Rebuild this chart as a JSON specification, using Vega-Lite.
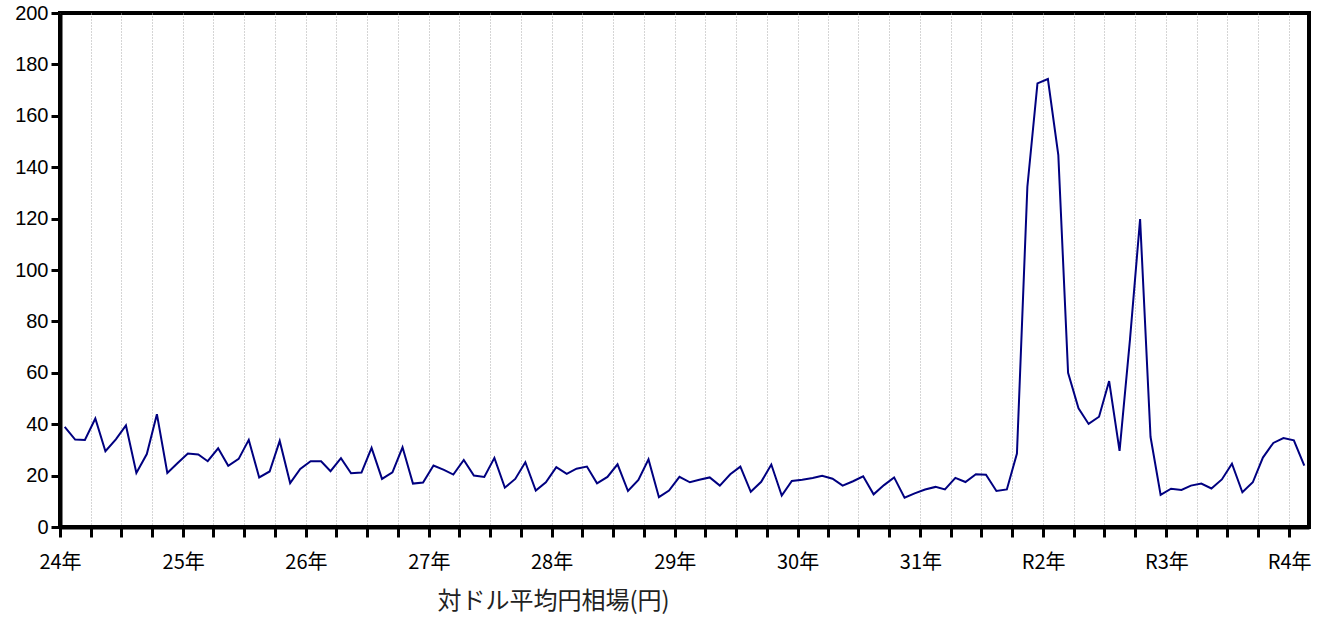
{
  "$schema": "https://vega.github.io/schema/vega-lite/v6.json",
  "autosize": {"type": "none"},
  "width": 1249,
  "height": 514,
  "padding": {"left": 60, "top": 13, "right": 24, "bottom": 90},
  "background": "white",
  "config": {
    "view": {"stroke": "black", "strokeWidth": 4},
    "axis": {"domainColor": "black", "tickColor": "black"}
  },
  "data": {
    "values": [
      {"date": "2012-01-15", "value": 39.0}, {"date": "2012-02-15", "value": 34.0}, {"date": "2012-03-15", "value": 33.9}, {"date": "2012-04-15", "value": 42.2},
      {"date": "2012-05-15", "value": 29.5}, {"date": "2012-06-15", "value": 34.1}, {"date": "2012-07-15", "value": 39.5}, {"date": "2012-08-15", "value": 21.0},
      {"date": "2012-09-15", "value": 28.4}, {"date": "2012-10-15", "value": 43.9}, {"date": "2012-11-15", "value": 21.0}, {"date": "2012-12-15", "value": 24.8},
      {"date": "2013-01-15", "value": 28.6}, {"date": "2013-02-15", "value": 28.2}, {"date": "2013-03-15", "value": 25.6}, {"date": "2013-04-15", "value": 30.6},
      {"date": "2013-05-15", "value": 23.8}, {"date": "2013-06-15", "value": 26.5}, {"date": "2013-07-15", "value": 33.9}, {"date": "2013-08-15", "value": 19.3},
      {"date": "2013-09-15", "value": 21.6}, {"date": "2013-10-15", "value": 33.5}, {"date": "2013-11-15", "value": 17.1}, {"date": "2013-12-15", "value": 22.6},
      {"date": "2014-01-15", "value": 25.6}, {"date": "2014-02-15", "value": 25.6}, {"date": "2014-03-15", "value": 21.7}, {"date": "2014-04-15", "value": 26.8},
      {"date": "2014-05-15", "value": 20.9}, {"date": "2014-06-15", "value": 21.2}, {"date": "2014-07-15", "value": 30.8}, {"date": "2014-08-15", "value": 18.7},
      {"date": "2014-09-15", "value": 21.3}, {"date": "2014-10-15", "value": 31.0}, {"date": "2014-11-15", "value": 16.9}, {"date": "2014-12-15", "value": 17.3},
      {"date": "2015-01-15", "value": 23.9}, {"date": "2015-02-15", "value": 22.2}, {"date": "2015-03-15", "value": 20.4}, {"date": "2015-04-15", "value": 26.1},
      {"date": "2015-05-15", "value": 20.0}, {"date": "2015-06-15", "value": 19.5}, {"date": "2015-07-15", "value": 26.9}, {"date": "2015-08-15", "value": 15.3},
      {"date": "2015-09-15", "value": 18.7}, {"date": "2015-10-15", "value": 25.2}, {"date": "2015-11-15", "value": 14.2}, {"date": "2015-12-15", "value": 17.4},
      {"date": "2016-01-15", "value": 23.3}, {"date": "2016-02-15", "value": 20.7}, {"date": "2016-03-15", "value": 22.7}, {"date": "2016-04-15", "value": 23.5},
      {"date": "2016-05-15", "value": 17.0}, {"date": "2016-06-15", "value": 19.5}, {"date": "2016-07-15", "value": 24.4}, {"date": "2016-08-15", "value": 14.0},
      {"date": "2016-09-15", "value": 18.3}, {"date": "2016-10-15", "value": 26.3}, {"date": "2016-11-15", "value": 11.6}, {"date": "2016-12-15", "value": 14.2},
      {"date": "2017-01-15", "value": 19.5}, {"date": "2017-02-15", "value": 17.4}, {"date": "2017-03-15", "value": 18.4}, {"date": "2017-04-15", "value": 19.3},
      {"date": "2017-05-15", "value": 16.1}, {"date": "2017-06-15", "value": 20.5}, {"date": "2017-07-15", "value": 23.5}, {"date": "2017-08-15", "value": 13.7},
      {"date": "2017-09-15", "value": 17.6}, {"date": "2017-10-15", "value": 24.3}, {"date": "2017-11-15", "value": 12.2}, {"date": "2017-12-15", "value": 17.9},
      {"date": "2018-01-15", "value": 18.4}, {"date": "2018-02-15", "value": 19.1}, {"date": "2018-03-15", "value": 19.9}, {"date": "2018-04-15", "value": 18.8},
      {"date": "2018-05-15", "value": 16.1}, {"date": "2018-06-15", "value": 17.8}, {"date": "2018-07-15", "value": 19.7}, {"date": "2018-08-15", "value": 12.7},
      {"date": "2018-09-15", "value": 16.3}, {"date": "2018-10-15", "value": 19.3}, {"date": "2018-11-15", "value": 11.4}, {"date": "2018-12-15", "value": 13.1},
      {"date": "2019-01-15", "value": 14.6}, {"date": "2019-02-15", "value": 15.6}, {"date": "2019-03-15", "value": 14.6}, {"date": "2019-04-15", "value": 19.1},
      {"date": "2019-05-15", "value": 17.5}, {"date": "2019-06-15", "value": 20.5}, {"date": "2019-07-15", "value": 20.3}, {"date": "2019-08-15", "value": 14.0},
      {"date": "2019-09-15", "value": 14.6}, {"date": "2019-10-15", "value": 28.6}, {"date": "2019-11-15", "value": 132.4}, {"date": "2019-12-15", "value": 172.6},
      {"date": "2020-01-15", "value": 174.3}, {"date": "2020-02-15", "value": 144.7}, {"date": "2020-03-15", "value": 60.0}, {"date": "2020-04-15", "value": 46.2},
      {"date": "2020-05-15", "value": 40.1}, {"date": "2020-06-15", "value": 42.9}, {"date": "2020-07-15", "value": 56.8}, {"date": "2020-08-15", "value": 29.6},
      {"date": "2020-09-15", "value": 73.0}, {"date": "2020-10-15", "value": 119.8}, {"date": "2020-11-15", "value": 35.1}, {"date": "2020-12-15", "value": 12.5},
      {"date": "2021-01-15", "value": 14.9}, {"date": "2021-02-15", "value": 14.4}, {"date": "2021-03-15", "value": 16.1}, {"date": "2021-04-15", "value": 16.9},
      {"date": "2021-05-15", "value": 15.0}, {"date": "2021-06-15", "value": 18.5}, {"date": "2021-07-15", "value": 24.6}, {"date": "2021-08-15", "value": 13.5},
      {"date": "2021-09-15", "value": 17.4}, {"date": "2021-10-15", "value": 27.0}, {"date": "2021-11-15", "value": 32.7}, {"date": "2021-12-15", "value": 34.6},
      {"date": "2022-01-15", "value": 33.7}, {"date": "2022-02-15", "value": 23.9}
    ]
  },
  "mark": {"type": "line", "color": "#000080", "strokeWidth": 2, "clip": true},
  "encoding": {
    "x": {
      "field": "date",
      "type": "temporal",
      "scale": {
        "type": "utc",
        "domain": [
          {"year": 2012, "month": 1, "date": 1, "utc": true},
          {"year": 2022, "month": 3, "date": 1, "utc": true}
        ],
        "nice": false
      },
      "axis": {
        "title": "対ドル平均円相場(円)",
        "titleFont": "Noto Sans CJK JP",
        "titleFontSize": 24,
        "titleFontWeight": "normal",
        "titleColor": "#222222",
        "titleX": 493,
        "titleY": 62,
        "titleAnchor": "middle",
        "tickCount": {"interval": "month", "step": 3},
        "labelExpr": "utcmonth(datum.value) == 0 ? (utcyear(datum.value) <= 2019 ? (utcyear(datum.value) - 1988) + '年' : 'R' + (utcyear(datum.value) - 2018) + '年') : ''",
        "labelFont": "Noto Sans CJK JP",
        "labelFontSize": 20,
        "labelColor": "black",
        "labelPadding": 15,
        "labelDx": 3,
        "labelOverlap": false,
        "labelBound": false,
        "labelFlush": false,
        "tickSize": 10,
        "tickWidth": 3,
        "domainWidth": 4,
        "grid": true,
        "gridColor": "#aaaaaa",
        "gridDash": [1, 2],
        "gridWidth": 1
      }
    },
    "y": {
      "field": "value",
      "type": "quantitative",
      "scale": {"domain": [0, 200], "nice": false},
      "axis": {
        "title": null,
        "values": [0, 20, 40, 60, 80, 100, 120, 140, 160, 180, 200],
        "labelFont": "Liberation Sans",
        "labelFontSize": 20,
        "labelColor": "black",
        "labelPadding": 3,
        "tickSize": 9,
        "tickWidth": 3,
        "domainWidth": 4,
        "grid": false
      }
    }
  }
}
